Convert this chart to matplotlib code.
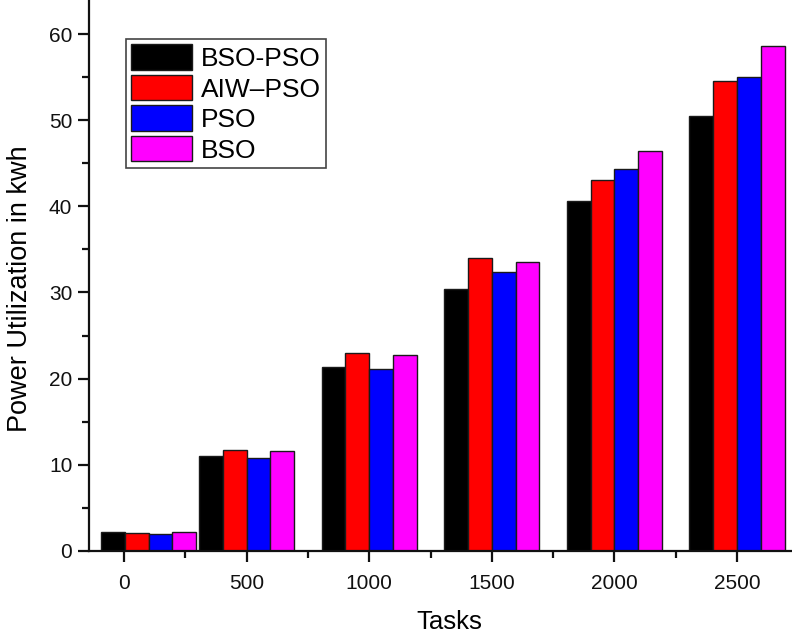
import matplotlib
matplotlib.use("Agg")
import matplotlib.pyplot as plt
import numpy as np
from matplotlib.ticker import MultipleLocator

plt.rcParams['font.family'] = ['Liberation Sans', 'DejaVu Sans']

# Task counts and power usage (kWh) per algorithm
tasks = [100, 500, 1000, 1500, 2000, 2500]
series_names = ["BSO-PSO", "AIW\u2013PSO", "PSO", "BSO"]
bso_pso = [2.2, 11.0, 21.3, 30.4, 40.6, 50.5]
aiw_pso = [2.0, 11.7, 23.0, 34.0, 43.1, 54.6]
pso = [1.95, 10.8, 21.1, 32.4, 44.4, 55.0]
bso = [2.15, 11.55, 22.7, 33.5, 46.4, 58.6]
colors = ["#000000", "#ff0000", "#0000ff", "#ff00ff"]

W, H = 792, 637
fig = plt.figure(figsize=(W / 100, H / 100), dpi=100)

# axes frame runs past the right and top edges of the canvas
y0_px = 550.7
px_per_x = 0.2452
px_per_y = 8.607
xmin, xmax = -143, 2800
ymin, ymax = 0, 66
tick0_px = 124
left_px = tick0_px + xmin * px_per_x
right_px = tick0_px + xmax * px_per_x
top_px = y0_px - ymax * px_per_y
ax = fig.add_axes([left_px / W, (H - y0_px) / H,
                   (right_px - left_px) / W, (y0_px - top_px) / H])

bar_w = 97
all_series = [bso_pso, aiw_pso, pso, bso]
x = np.array(tasks, dtype=float)
for i, (vals, name, c) in enumerate(zip(all_series, series_names, colors)):
    ax.bar(x + (i - 1.5) * bar_w, vals, width=bar_w, color=c,
           edgecolor="#1a1a1a", linewidth=1.0, label=name, zorder=2)

ax.set_xlim(xmin, xmax)
ax.set_ylim(ymin, ymax)
ax.set_xticks([0, 500, 1000, 1500, 2000, 2500])
ax.xaxis.set_minor_locator(MultipleLocator(250))
ax.set_yticks(range(0, 61, 10))
ax.yaxis.set_minor_locator(MultipleLocator(5))

for s in ("top", "right"):
    ax.spines[s].set_visible(False)
for s in ("left", "bottom"):
    ax.spines[s].set_linewidth(1.6)
    ax.spines[s].set_color("#111111")

ax.tick_params(axis="both", which="major", direction="out", length=8,
               width=1.6, labelsize=15, pad=4, colors="#111111")
ax.tick_params(axis="both", which="minor", direction="out", length=5,
               width=1.6, colors="#111111")
ax.tick_params(axis="x", which="major", pad=9)

ax.set_xlabel("Tasks", fontsize=18.5, labelpad=12)
ax.set_ylabel("Power Utilization in kwh", fontsize=19.5)
# place the y label centred at a fixed canvas height
ylab_y_px = 289
ax.yaxis.set_label_coords(20 / W, 1 - ylab_y_px / H, transform=fig.transFigure)
ax.yaxis.label.set_verticalalignment("center")

leg = ax.legend(loc="upper left", bbox_to_anchor=(125.7 / W, 1 - 39 / H),
                bbox_transform=fig.transFigure, borderaxespad=0,
                fontsize=19, handlelength=2.3, handleheight=1.1,
                labelspacing=0.15, handletextpad=0.35, borderpad=0.2,
                fancybox=False, framealpha=1, edgecolor="#444444")
leg.get_frame().set_linewidth(1.2)

fig.savefig("out.png", dpi=100)
